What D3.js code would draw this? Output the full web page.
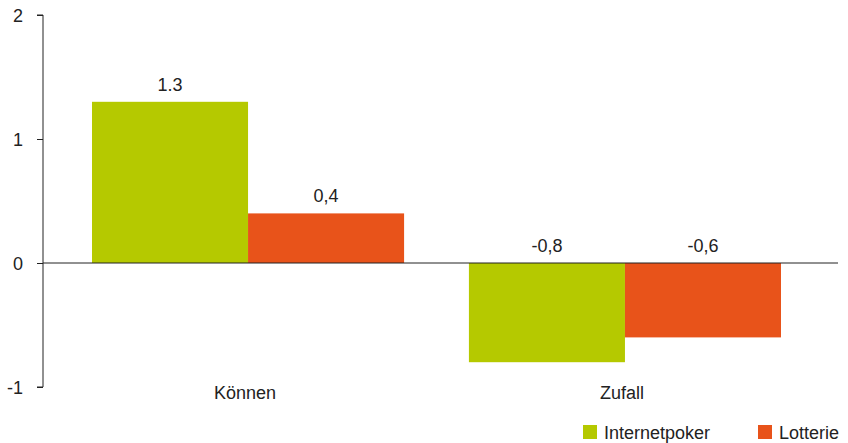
<!DOCTYPE html>
<html><head><meta charset="utf-8">
<script src="https://cdn.jsdelivr.net/npm/d3@7"></script>
<style>body{margin:0;background:#fff;} text{font-family:"Liberation Sans",Arial,sans-serif;fill:#222;}</style>
</head><body><svg id="c" width="848" height="443"></svg>
<script>
const categories = ["Können", "Zufall"];
const seriesNames = ["Internetpoker", "Lotterie"];
const internetpoker = [1.3, -0.8];
const lotterie = [0.4, -0.6];
const valueLabels = [["1.3", "0,4"], ["-0,8", "-0,6"]];
const yTicks = [-1, 0, 1, 2];
const colors = ["#b5c900", "#e8531a"];

const svg = d3.select("#c");
const y = d3.scaleLinear().domain([-1, 2]).range([387, 15]);
const x0 = d3.scaleBand().domain(categories).range([43, 830]).paddingInner(0.172).paddingOuter(0.13);
const x1 = d3.scaleBand().domain(seriesNames).range([0, x0.bandwidth()]);

const yAxis = d3.axisLeft(y).tickValues(yTicks).tickSize(6).tickFormat(d => String(d));
const ga = svg.append("g").attr("transform", "translate(43,0)").call(yAxis);
ga.select(".domain").attr("stroke", "#222").attr("d", "M-6,15H0V387H-6");
ga.selectAll(".tick line").attr("stroke", "#222");
ga.selectAll(".tick text").attr("x", -20).attr("dy", "0.35em").style("font-size", "18px").style("font-family", "Liberation Sans, Arial, sans-serif").attr("fill", "#222");

const data = categories.map((c, i) => ({cat: c, vals: [internetpoker[i], lotterie[i]], labels: valueLabels[i]}));
const g = svg.append("g");
data.forEach(d => {
  d.vals.forEach((v, j) => {
    const xx = x0(d.cat) + x1(seriesNames[j]);
    g.append("rect").attr("x", xx).attr("width", x1.bandwidth())
      .attr("y", y(Math.max(0, v))).attr("height", Math.abs(y(v) - y(0)))
      .attr("fill", colors[j]);
    g.append("text").attr("x", xx + x1.bandwidth() / 2).attr("y", y(Math.max(0, v)) - 11)
      .attr("text-anchor", "middle").style("font-size", "18px").text(d.labels[j]);
  });
  g.append("text").attr("x", x0(d.cat) + x0.bandwidth() / 2 - 3).attr("y", 399)
    .attr("text-anchor", "middle").style("font-size", "18px").text(d.cat);
});
svg.append("line").attr("x1", 43).attr("x2", 838).attr("y1", y(0)).attr("y2", y(0)).attr("stroke", "#222").attr("stroke-width", 1);

const leg = svg.append("g");
const legX = [583, 758];
seriesNames.forEach((s, j) => {
  leg.append("rect").attr("x", legX[j]).attr("y", 425).attr("width", 14).attr("height", 14).attr("fill", colors[j]);
  leg.append("text").attr("x", legX[j] + 21).attr("y", 439).style("font-size", "18px").text(s);
});
</script></body></html>
